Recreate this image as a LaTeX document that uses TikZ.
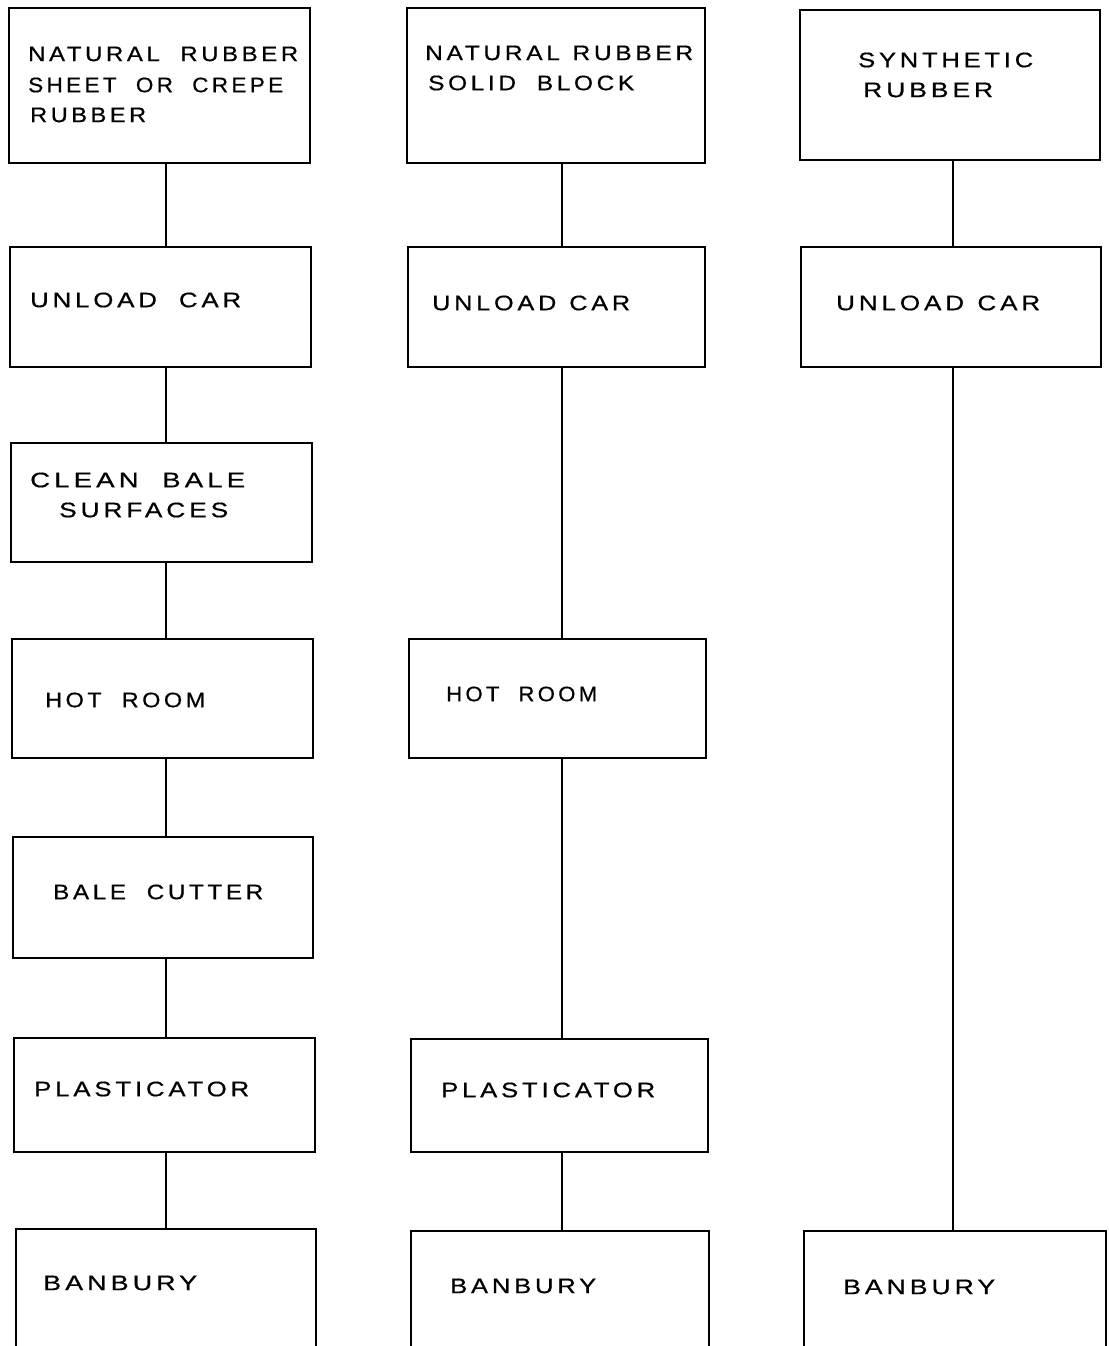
\documentclass[tikz,border=0pt]{standalone}
\usepackage{fontspec}
\setmainfont{Liberation Sans}[LetterSpace=15,WordSpace=2,FakeBold=0.6]
\newfontfamily\tightfont{Liberation Sans}[LetterSpace=15,WordSpace=1.2,FakeBold=0.6]
\usepackage{graphicx}
\tikzset{
  box/.style={draw, line width=2.2pt, inner sep=0pt, outer sep=0pt, rectangle},
  lbl/.style={anchor=west, inner sep=0pt, font=\fontsize{21pt}{25pt}\selectfont},
  link/.style={line width=1.6pt},
}
\newcommand{\fitw}[2]{\resizebox{#1pt}{\height}{#2}}
\begin{document}
\begin{tikzpicture}[x=1pt,y=-1pt]
\useasboundingbox (0,0) rectangle (1108,1346);
\fill[white] (0,0) rectangle (1108,1346);
\clip (0,0) rectangle (1108,1346);
% column axes
\coordinate (c1) at (166,0);
\coordinate (c2) at (562,0);
\coordinate (c3) at (953,0);
% column 1 boxes
\node[box, minimum width=301pt, minimum height=155pt] (b11) at (159.5,85.5) {};
\node[box, minimum width=301pt, minimum height=120pt] (b12) at (160.5,307) {};
\node[box, minimum width=301pt, minimum height=119pt] (b13) at (161.5,502.5) {};
\node[box, minimum width=301pt, minimum height=119pt] (b14) at (162.5,698.5) {};
\node[box, minimum width=300pt, minimum height=121pt] (b15) at (163,897.5) {};
\node[box, minimum width=301pt, minimum height=114pt] (b16) at (164.5,1095) {};
\node[box, minimum width=300pt, minimum height=141pt] (b17) at (166,1299.5) {};
% column 2 boxes
\node[box, minimum width=298pt, minimum height=155pt] (b21) at (556,85.5) {};
\node[box, minimum width=297pt, minimum height=120pt] (b22) at (556.5,307) {};
\node[box, minimum width=297pt, minimum height=119pt] (b24) at (557.5,698.5) {};
\node[box, minimum width=297pt, minimum height=113pt] (b26) at (559.5,1095.5) {};
\node[box, minimum width=298pt, minimum height=139pt] (b27) at (560,1300.5) {};
% column 3 boxes
\node[box, minimum width=300pt, minimum height=150pt] (b31) at (950,85) {};
\node[box, minimum width=300pt, minimum height=120pt] (b32) at (951,307) {};
\node[box, minimum width=302pt, minimum height=139pt] (b37) at (955,1300.5) {};
% connectors
\draw[link] (b11.south -| c1) -- (b12.north -| c1);
\draw[link] (b12.south -| c1) -- (b13.north -| c1);
\draw[link] (b13.south -| c1) -- (b14.north -| c1);
\draw[link] (b14.south -| c1) -- (b15.north -| c1);
\draw[link] (b15.south -| c1) -- (b16.north -| c1);
\draw[link] (b16.south -| c1) -- (b17.north -| c1);
\draw[link] (b21.south -| c2) -- (b22.north -| c2);
\draw[link] (b22.south -| c2) -- (b24.north -| c2);
\draw[link] (b24.south -| c2) -- (b26.north -| c2);
\draw[link] (b26.south -| c2) -- (b27.north -| c2);
\draw[link] (b31.south -| c3) -- (b32.north -| c3);
\draw[link] (b32.south -| c3) -- (b37.north -| c3);
% labels column 1
\node[lbl] (t11a) at (28,54) {\fitw{270}{NATURAL RUBBER}};
\node[lbl] (t11b) at (28,85) {\fitw{255}{SHEET OR CREPE}};
\node[lbl] (t11c) at (30,115) {\fitw{116}{RUBBER}};
\node[lbl] (t12) at (30,300) {\fitw{211}{UNLOAD CAR}};
\node[lbl] (t13a) at (30,480) {\fitw{215}{CLEAN BALE}};
\node[lbl] (t13b) at (59,510) {\fitw{169}{SURFACES}};
\node[lbl] (t14) at (45,700) {\fitw{160}{HOT ROOM}};
\node[lbl] (t15) at (53,892) {\fitw{210}{BALE CUTTER}};
\node[lbl] (t16) at (34,1089) {\fitw{215}{PLASTICATOR}};
\node[lbl] (t17) at (43,1283) {\fitw{154}{BANBURY}};
% labels column 2
\node[lbl] (t21a) at (425,53) {\fitw{268}{\tightfont NATURAL RUBBER}};
\node[lbl] (t21b) at (428,83) {\fitw{206}{SOLID BLOCK}};
\node[lbl] (t22) at (432,303) {\fitw{198}{\tightfont UNLOAD CAR}};
\node[lbl] (t24) at (446,694) {\fitw{151}{HOT ROOM}};
\node[lbl] (t26) at (441,1090) {\fitw{214}{PLASTICATOR}};
\node[lbl] (t27) at (450,1286) {\fitw{146}{BANBURY}};
% labels column 3
\node[lbl] (t31a) at (858,60) {\fitw{175}{SYNTHETIC}};
\node[lbl] (t31b) at (863,90) {\fitw{130}{RUBBER}};
\node[lbl] (t32) at (836,303) {\fitw{204}{\tightfont UNLOAD CAR}};
\node[lbl] (t37) at (843,1287) {\fitw{152}{BANBURY}};
\end{tikzpicture}
\end{document}
